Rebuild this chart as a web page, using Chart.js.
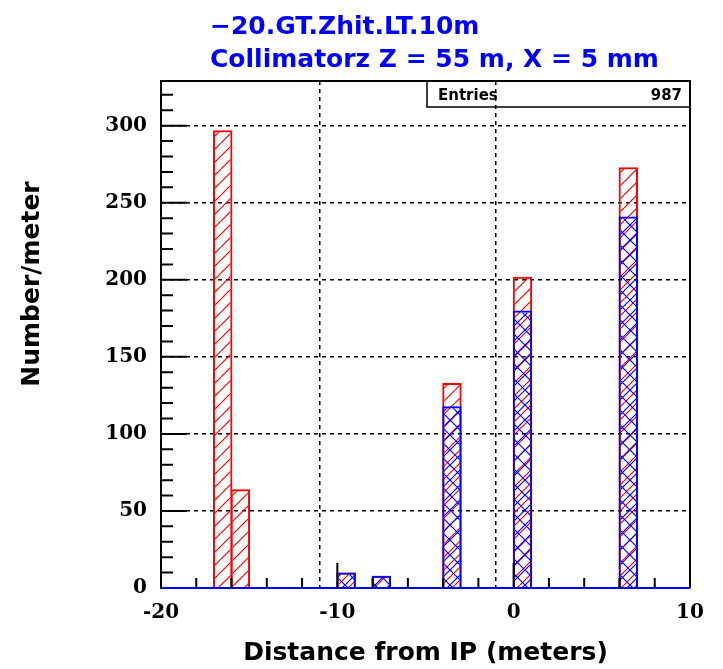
<!DOCTYPE html>
<html lang="en">
<head>
  <meta charset="UTF-8" />
  <title>Zhit histogram</title>
  <script src="https://cdn.jsdelivr.net/npm/chart.js"></script>
  <style>
    body {
      margin: 0;
      padding: 0;
      background-color: white;
    }
    #wrap {
      width: 723px;
      height: 669px;
    }
  </style>
</head>
<body>
<div id="wrap">
  <canvas id="histChart" width="723" height="669"></canvas>
</div>

<script>
  // Bin centres (1 m bins from -20 to 10) and contents
  const binCenters = [-19.5, -18.5, -17.5, -16.5, -15.5, -14.5, -13.5, -12.5, -11.5, -10.5,
                      -9.5, -8.5, -7.5, -6.5, -5.5, -4.5, -3.5, -2.5, -1.5, -0.5,
                      0.5, 1.5, 2.5, 3.5, 4.5, 5.5, 6.5, 7.5, 8.5, 9.5];
  const redCounts  = [0, 0, 0, 297, 64, 0, 0, 0, 0, 0,
                      10, 0, 8, 0, 0, 0, 133, 0, 0, 0,
                      202, 0, 0, 0, 0, 0, 273, 0, 0, 0];
  const blueCounts = [0, 0, 0, 0, 0, 0, 0, 0, 0, 0,
                      10, 0, 8, 0, 0, 0, 118, 0, 0, 0,
                      180, 0, 0, 0, 0, 0, 241, 0, 0, 0];
  const titleLines = ['\u221220.GT.Zhit.LT.10m', 'Collimatorz Z = 55 m, X = 5 mm'];
  const entries = 987;

  // hatch patterns
  function hatch(color, size, cross) {
    const tile = document.createElement('canvas');
    tile.width = size;
    tile.height = size;
    const c = tile.getContext('2d');
    c.strokeStyle = color;
    c.lineWidth = 1.2;
    c.beginPath();
    for (const k of [-size, 0, size]) {
      c.moveTo(k, size);
      c.lineTo(k + size, 0);
      if (cross) {
        c.moveTo(k, 0);
        c.lineTo(k + size, size);
      }
    }
    c.stroke();
    return c.createPattern(tile, 'repeat');
  }

  const frameAndTicks = {
    id: 'frameAndTicks',
    afterDatasetsDraw(chart) {
      const ctx = chart.ctx;
      const a = chart.chartArea;
      const xs = chart.scales.x, ys = chart.scales.y;
      ctx.save();
      ctx.strokeStyle = 'black';
      ctx.lineWidth = 2;
      ctx.beginPath();
      ys.ticks.forEach(t => {
        if (t.value <= 0) return;
        const y = ys.getPixelForValue(t.value);
        const len = t.value % 50 === 0 ? 26 : 12;
        ctx.moveTo(a.left, y);
        ctx.lineTo(a.left + len, y);
      });
      xs.ticks.forEach(t => {
        if (t.value <= -20 || t.value >= 10) return;
        const x = xs.getPixelForValue(t.value);
        const len = t.value % 10 === 0 ? 25 : 10;
        ctx.moveTo(x, a.bottom);
        ctx.lineTo(x, a.bottom - len);
      });
      // frame: left, top, right
      ctx.moveTo(a.left, a.bottom);
      ctx.lineTo(a.left, a.top);
      ctx.lineTo(a.right, a.top);
      ctx.lineTo(a.right, a.bottom);
      ctx.stroke();
      // stats box
      ctx.lineWidth = 1.5;
      ctx.strokeRect(427, a.top, a.right - 427, 26);
      ctx.fillStyle = 'black';
      ctx.font = 'bold 15px "DejaVu Sans"';
      ctx.textBaseline = 'alphabetic';
      ctx.textAlign = 'left';
      ctx.fillText('Entries', 438, a.top + 19);
      ctx.textAlign = 'right';
      ctx.fillText(String(entries), a.right - 8, a.top + 19);
      ctx.restore();
    },
    afterDraw(chart) {
      const ctx = chart.ctx;
      ctx.save();
      ctx.fillStyle = '#0000ff';
      ctx.font = 'bold 25px "DejaVu Sans"';
      ctx.textAlign = 'left';
      ctx.fillText(titleLines[0], 210, 34);
      ctx.fillText(titleLines[1], 210, 67);
      ctx.fillStyle = 'black';
      ctx.font = 'bold 25px "DejaVu Sans"';
      ctx.translate(32, 284);
      ctx.rotate(-Math.PI / 2);
      ctx.textAlign = 'center';
      ctx.textBaseline = 'middle';
      ctx.fillText('Number/meter', 0, 0);
      ctx.restore();
    }
  };

  window.onload = () => {
    new Chart(document.getElementById('histChart'), {
      type: 'bar',
      data: {
        datasets: [
          {
            label: 'all',
            data: binCenters.map((c, i) => ({ x: c, y: redCounts[i] })),
            backgroundColor: hatch('#ff0000', 13, false),
            borderColor: '#ff0000',
            borderWidth: 2,
            borderSkipped: 'start',
            barPercentage: 1.1,
            categoryPercentage: 1,
            grouped: false,
            order: 1
          },
          {
            label: 'selected',
            data: binCenters.map((c, i) => ({ x: c, y: blueCounts[i] })),
            backgroundColor: hatch('#0000ff', 15, true),
            borderColor: '#0000ff',
            borderWidth: 2,
            borderSkipped: 'start',
            barPercentage: 1.1,
            categoryPercentage: 1,
            grouped: false,
            order: 0
          }
        ]
      },
      options: {
        responsive: false,
        animation: false,
        events: [],
        layout: { padding: { left: 0, right: 33, top: 81, bottom: 0 } },
        plugins: {
          legend: { display: false },
          tooltip: { enabled: false }
        },
        scales: {
          x: {
            type: 'linear',
            offset: false,
            min: -20,
            max: 10,
            afterFit(scale) { scale.height = 81; },
            ticks: {
              stepSize: 2,
              autoSkip: false,
              maxRotation: 0,
              includeBounds: false,
              padding: 13,
              color: 'black',
              font: { family: 'DejaVu Serif', weight: 'bold', size: 20 },
              callback: v => (v % 10 === 0 ? String(v) : '')
            },
            grid: {
              drawTicks: false,
              lineWidth: 1.5,
              color: ctx => {
                const v = ctx.tick ? ctx.tick.value : 0;
                return (v % 10 === 0 && v > -20 && v < 10) ? 'black' : 'rgba(0,0,0,0)';
              }
            },
            border: { color: '#0000ff', width: 2, dash: [4, 4] },
            title: {
              display: true,
              text: 'Distance from IP (meters)',
              color: 'black',
              font: { family: 'DejaVu Sans', weight: 'bold', size: 25 },
              padding: { top: 0, bottom: 1 }
            }
          },
          y: {
            min: 0,
            max: 329,
            afterFit(scale) { scale.width = 161; },
            ticks: {
              stepSize: 10,
              autoSkip: false,
              includeBounds: false,
              padding: 14,
              color: 'black',
              font: { family: 'DejaVu Serif', weight: 'bold', size: 20 },
              callback: v => (v % 50 === 0 ? String(v) : '')
            },
            grid: {
              drawTicks: false,
              lineWidth: 1.5,
              color: ctx => {
                const v = ctx.tick ? ctx.tick.value : 0;
                return (v % 50 === 0 && v > 0) ? 'black' : 'rgba(0,0,0,0)';
              }
            },
            border: { color: 'black', width: 2, dash: [4, 4] }
          }
        }
      },
      plugins: [frameAndTicks]
    });
  };
</script>
</body>
</html>
